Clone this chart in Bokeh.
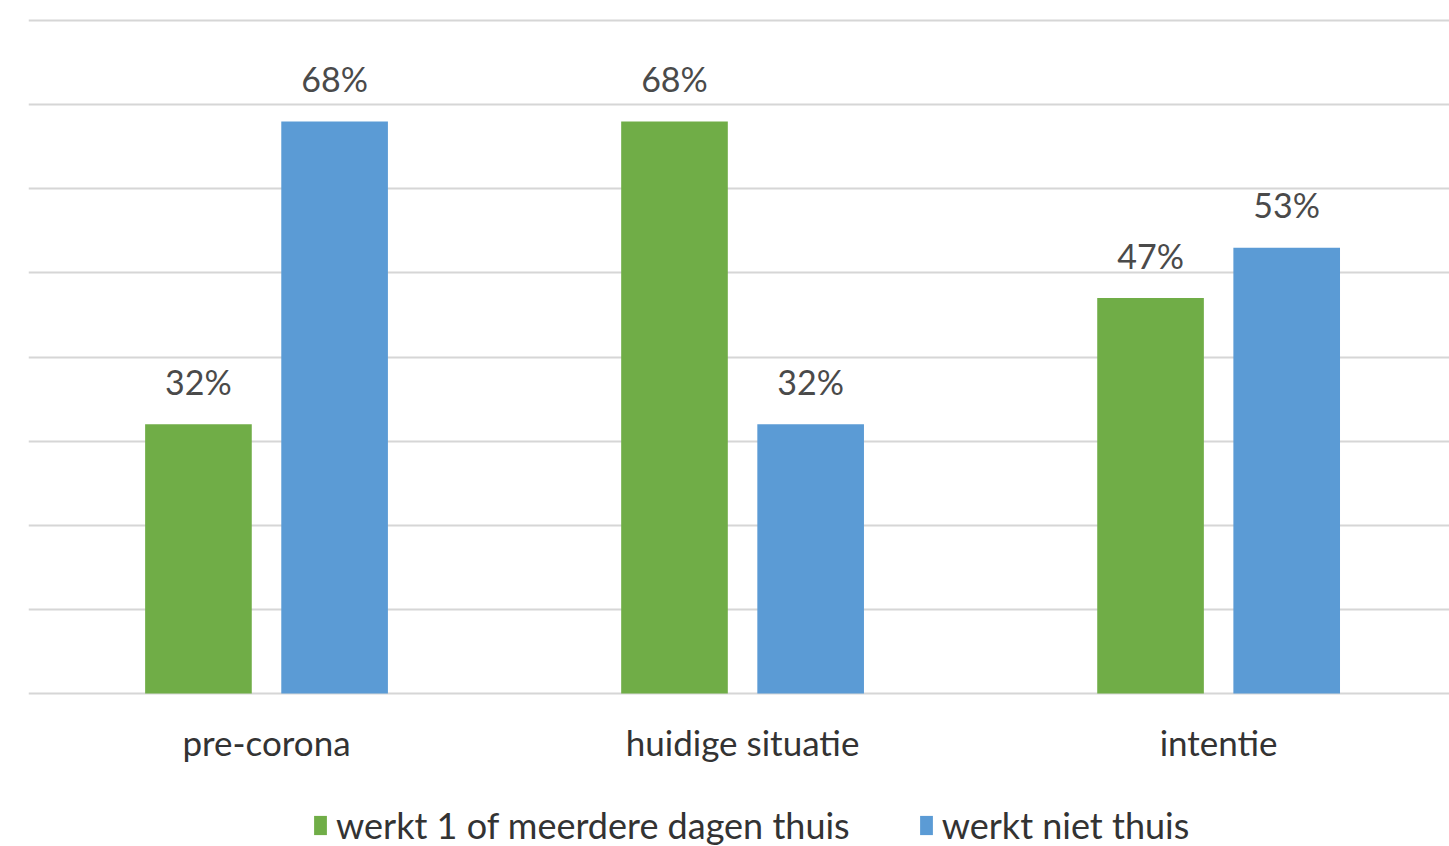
from bokeh.plotting import figure
from bokeh.models import ColumnDataSource, Range1d, Legend, LegendItem, FixedTicker
from bokeh.embed import file_html
from bokeh.resources import INLINE
from bokeh.core.properties import value

# Share of respondents per period
categories = ["pre-corona", "huidige situatie", "intentie"]
thuis = [32, 68, 47]        # werkt 1 of meerdere dagen thuis
niet_thuis = [68, 32, 53]   # werkt niet thuis
series_names = ["werkt 1 of meerdere dagen thuis", "werkt niet thuis"]
y_ticks = [0, 10, 20, 30, 40, 50, 60, 70, 80]

GREEN = "#70ad47"
BLUE = "#5b9bd5"
FONT = "Lato"

centers = [i + 0.5 for i in range(len(categories))]
offset = 0.143
bar_w = 0.224

src_g = ColumnDataSource(dict(x=[c - offset for c in centers], top=thuis,
                              label=[f"{v}%" for v in thuis]))
src_b = ColumnDataSource(dict(x=[c + offset for c in centers], top=niet_thuis,
                              label=[f"{v}%" for v in niet_thuis]))
src_cat = ColumnDataSource(dict(x=centers, y=[0] * len(categories), label=categories))

# the frame fills the page; the space below zero holds category names and legend
p = figure(width=1449, height=846, output_backend="svg", toolbar_location=None,
           x_range=Range1d(0, 2.985), y_range=Range1d(-18.19, 82.38),
           min_border_left=28, min_border_right=0, min_border_top=0,
           min_border_bottom=0)
p.outline_line_color = None
p.background_fill_color = "white"
p.border_fill_color = "white"
p.xaxis.visible = False
p.yaxis.visible = False

# horizontal gridlines every 10%
p.ygrid.ticker = FixedTicker(ticks=y_ticks)
p.ygrid.grid_line_color = "#d6d6d6"
p.ygrid.grid_line_width = 2
p.xgrid.visible = False

rg = p.vbar(x="x", top="top", width=bar_w, source=src_g, fill_color=GREEN, line_color=None)
rb = p.vbar(x="x", top="top", width=bar_w, source=src_b, fill_color=BLUE, line_color=None)

for src in (src_g, src_b):
    p.text(x="x", y="top", text="label", source=src, text_align="center",
           text_baseline="middle", y_offset=-43, text_color="#4a4a4a",
           text_font=value(FONT), text_font_size="34px")

# category names under the baseline
p.text(x="x", y="y", text="label", source=src_cat, text_align="center",
       text_baseline="middle", y_offset=49, text_color="#333333",
       text_font=value(FONT), text_font_size="35px")

legend = Legend(items=[LegendItem(label=series_names[0], renderers=[rg]),
                       LegendItem(label=series_names[1], renderers=[rb])],
                orientation="horizontal", location=(284, -1),
                label_text_font=FONT, label_text_font_size="36px",
                label_text_color="#333333", glyph_width=16, glyph_height=24,
                label_standoff=8, spacing=68, border_line_color=None,
                background_fill_alpha=0, margin=0, padding=0)
p.add_layout(legend, "center")

open("out.html", "w").write(file_html(p, INLINE))
